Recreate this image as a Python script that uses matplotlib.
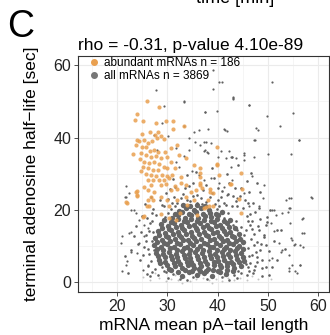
import numpy as np
import matplotlib
matplotlib.use("Agg")
import matplotlib.pyplot as plt
from matplotlib.lines import Line2D

plt.rcParams['font.family'] = ['Liberation Sans', 'DejaVu Sans']

# abundant mRNAs (orange)
abundant = [
    (25.9, 50.0), (28.3, 48.4), (24.0, 46.4), (25.2, 44.7), (23.6, 44.9), (27.8, 44.0),
    (29.7, 44.7), (31.2, 44.7), (33.3, 43.2), (31.2, 42.3), (26.5, 41.6), (24.9, 41.0),
    (28.1, 41.5), (27.5, 40.7), (28.7, 40.4), (24.0, 39.3), (24.4, 39.0), (25.4, 39.3),
    (26.2, 38.4), (27.9, 39.8), (26.9, 39.0), (29.4, 39.5), (23.8, 37.9), (24.9, 37.5),
    (25.8, 37.3), (26.6, 36.4), (27.4, 36.6), (28.2, 36.1), (29.5, 36.1), (23.2, 35.5),
    (24.8, 35.8), (25.7, 35.2), (26.7, 34.7), (27.7, 34.9), (28.7, 34.3), (30.0, 34.7),
    (30.7, 33.2), (24.6, 34.0), (25.4, 33.3), (26.4, 32.9), (27.4, 33.1), (28.4, 32.7),
    (29.4, 31.9), (25.1, 31.9), (26.1, 31.5), (27.1, 31.0), (28.1, 31.0), (30.0, 31.5),
    (24.8, 30.6), (25.7, 29.9), (26.7, 29.6), (27.7, 29.4), (29.0, 29.6), (29.9, 29.4),
    (26.1, 28.3), (27.1, 28.1), (28.4, 28.3), (29.4, 28.3), (30.4, 28.7), (28.7, 26.9),
    (29.7, 27.2), (26.7, 26.9), (25.3, 26.4), (24.1, 25.3), (24.0, 23.8), (22.0, 22.0),
    (26.1, 25.5), (26.7, 23.6), (27.4, 25.0), (26.1, 22.7), (25.4, 18.3), (26.4, 20.9),
    (28.7, 23.6), (30.0, 22.7), (30.4, 20.9), (30.4, 17.6), (30.7, 25.5), (31.5, 26.6),
    (32.0, 25.7), (32.8, 27.5), (33.7, 26.9), (32.0, 22.7), (33.7, 23.6), (34.7, 24.8),
    (34.0, 21.3), (35.4, 22.7), (35.8, 25.5), (36.9, 26.0), (36.5, 27.5), (36.6, 29.2),
    (38.0, 22.7), (38.5, 25.0), (39.0, 21.1), (36.0, 18.5), (37.6, 20.7), (31.7, 17.2),
    (32.5, 19.0), (28.7, 18.8), (39.9, 37.5), (39.9, 32.4), (40.3, 29.6), (42.6, 27.2),
    (44.7, 30.1), (44.8, 25.7), (44.2, 22.9), (44.7, 19.0), (33.7, 34.3), (35.3, 32.4),
    (30.7, 37.0), (32.0, 38.0), (32.3, 35.2), (31.5, 31.5), (31.0, 29.6), (32.8, 29.2),
    (21.8, 22.2), (23.9, 25.0), (24.1, 24.1), (25.1, 18.1), (25.9, 20.9), (27.1, 22.7),
    (36.6, 31.5), (36.6, 30.1), (39.8, 32.6), (38.5, 25.7), (39.0, 24.7), (38.3, 20.9),
    (37.3, 20.4), (42.4, 27.1), (36.6, 26.9),
]

# all mRNAs: dense core of the cloud
all_core = [
    (33.0, 1.6), (34.4, 2.8), (35.9, 1.9), (37.3, 2.5), (38.8, 1.7), (40.1, 2.9),
    (41.7, 2.2), (36.6, 3.1),
    (30.3, 3.7), (31.6, 4.5), (32.9, 3.9), (34.1, 4.6), (35.4, 3.8), (36.8, 4.4),
    (38.0, 3.6), (39.3, 4.7), (40.6, 4.0), (41.9, 4.5), (43.3, 3.8), (44.7, 4.3),
    (28.3, 6.0), (29.6, 5.5), (30.9, 6.4), (32.2, 5.8), (33.5, 6.6), (34.8, 5.6), (36.1, 6.3),
    (37.4, 5.7), (38.7, 6.5), (40.0, 5.9), (41.3, 6.2), (42.6, 5.6), (43.9, 6.4), (45.2, 5.9),
    (27.8, 8.1), (29.1, 7.6), (30.4, 8.4), (31.7, 7.8), (33.0, 8.5), (34.3, 7.7), (35.6, 8.3),
    (36.9, 7.9), (38.2, 8.6), (39.5, 7.8), (40.8, 8.2), (42.1, 7.7), (43.4, 8.5), (44.7, 8.0),
    (27.4, 10.2), (28.7, 9.6), (30.0, 10.4), (31.3, 9.8), (32.6, 10.5), (33.9, 9.7), (35.2, 10.3),
    (36.5, 9.9), (37.8, 10.6), (39.1, 9.8), (40.4, 10.2), (41.7, 9.7), (43.0, 10.5), (44.3, 10.0),
    (27.6, 12.1), (28.9, 11.6), (30.2, 12.4), (31.5, 11.8), (32.8, 12.5), (34.1, 11.7), (35.4, 12.3),
    (36.7, 11.9), (38.0, 12.6), (39.3, 11.8), (40.6, 12.2), (41.9, 11.7), (43.2, 12.4), (44.5, 12.0),
    (28.2, 14.0), (29.5, 13.6), (30.8, 14.4), (32.1, 13.8), (33.4, 14.5), (34.7, 13.7), (36.0, 14.3),
    (37.3, 13.9), (38.6, 14.6), (39.9, 13.8), (41.2, 14.2), (42.5, 13.7),
    (28.8, 16.1), (30.1, 15.6), (31.4, 16.4), (32.7, 15.8), (34.0, 16.5), (35.3, 15.7), (36.6, 16.3),
    (37.9, 15.9), (39.2, 16.6), (40.5, 15.8), (41.8, 16.2),
    (30.9, 17.6), (32.2, 18.4), (33.5, 17.8), (34.8, 18.5), (36.1, 17.7), (37.4, 18.3),
    (38.7, 17.9), (40.0, 18.6),
    (32.3, 19.7), (33.8, 20.4), (35.3, 19.8), (36.8, 20.5), (38.3, 19.9),
]

# all mRNAs: more of the dense core, between the rows above
all_core_b = [
    (30.8, 3.3), (32.1, 2.8), (33.6, 3.4), (34.9, 2.9), (36.3, 3.6), (37.7, 3.0),
    (39.0, 3.3), (40.5, 2.7), (41.9, 3.4), (43.1, 3.1),
    (28.6, 5.2), (29.9, 4.8), (31.3, 5.3), (32.5, 4.9), (33.9, 5.4), (35.1, 4.7), (36.6, 5.1),
    (37.8, 4.9), (39.2, 5.5), (40.4, 4.8), (41.8, 5.3), (43.0, 4.9), (44.3, 5.4),
    (28.1, 7.1), (29.5, 6.8), (30.7, 7.3), (32.0, 6.9), (33.4, 7.4), (34.6, 6.7), (35.9, 7.2),
    (37.2, 6.9), (38.5, 7.5), (39.9, 6.8), (41.1, 7.1), (42.4, 6.8), (43.7, 7.4), (45.1, 7.0),
    (27.9, 9.1), (29.2, 8.7), (30.6, 9.3), (31.9, 8.8), (33.3, 9.4), (34.5, 8.7), (35.9, 9.2),
    (37.1, 8.9), (38.5, 9.6), (39.8, 8.8), (41.2, 9.1), (42.5, 8.7), (43.8, 9.4), (45.0, 9.0),
    (27.9, 11.0), (29.3, 10.7), (30.6, 11.3), (31.9, 10.8), (33.2, 11.5), (34.6, 10.7), (35.8, 11.2),
    (37.2, 10.9), (38.5, 11.6), (39.7, 10.8), (41.1, 11.2), (42.3, 10.7), (43.7, 11.4), (45.0, 11.0),
    (28.4, 13.1), (29.7, 12.7), (31.1, 13.3), (32.4, 12.9), (33.8, 13.4), (35.0, 12.8), (36.4, 13.2),
    (37.6, 12.9), (39.0, 13.5), (40.2, 12.8), (41.6, 13.2), (42.9, 12.8), (44.2, 13.3),
    (29.0, 15.0), (30.4, 14.7), (31.7, 15.3), (33.0, 14.9), (34.4, 15.4), (35.7, 14.8), (37.0, 15.2),
    (38.3, 14.9), (39.6, 15.5), (40.9, 14.8), (42.2, 15.2), (43.5, 14.8),
    (29.4, 17.1), (30.8, 16.7), (32.1, 17.3), (33.4, 16.9), (34.7, 17.4), (36.0, 16.8), (37.3, 17.2),
    (38.6, 16.9), (39.9, 17.5), (41.2, 16.8), (42.5, 17.2),
    (31.6, 18.8), (33.0, 19.3), (34.3, 18.9), (35.7, 19.4), (37.0, 18.8), (38.4, 19.2),
    (39.6, 18.9), (40.9, 19.4),
    (33.1, 21.4), (34.5, 20.9), (36.0, 21.3), (37.5, 21.0),
]

# all mRNAs: ring of medium density around the core
all_ring = [
    (24.5, 6.2), (25.3, 9.8), (26.1, 4.5), (25.8, 13.1), (26.6, 16.4), (24.9, 18.2), (26.9, 11.4),
    (27.2, 20.3), (25.5, 21.7), (23.4, 12.6), (22.8, 8.9), (26.3, 7.7), (27.0, 2.8), (25.9, 2.1),
    (23.9, 15.5), (21.6, 7.2), (22.2, 2.5), (24.2, 10.6), (27.7, 18.6), (26.8, 23.4),
    (28.5, 22.8), (29.8, 24.6), (30.9, 21.9), (31.6, 26.3), (32.8, 23.2), (33.5, 25.9), (34.6, 22.4),
    (35.2, 27.4), (36.0, 24.1), (36.9, 21.6), (37.7, 26.8), (38.4, 23.5), (39.3, 28.9), (40.1, 22.7),
    (40.8, 25.2), (41.6, 21.3), (42.3, 27.5), (43.1, 23.8), (43.9, 20.9), (44.6, 26.1), (45.4, 22.6),
    (46.2, 24.9), (47.1, 21.8), (47.9, 27.3), (33.9, 29.6), (31.2, 28.4), (29.4, 21.0), (35.8, 30.5),
    (38.9, 31.7), (41.9, 29.8), (44.0, 32.4), (46.6, 30.1), (48.5, 25.0),
    (46.8, 14.7), (47.3, 10.2), (47.9, 6.8), (48.4, 17.3), (46.4, 18.9), (49.2, 12.5), (48.8, 3.9),
    (50.1, 8.6), (47.0, 2.6), (49.6, 15.9), (51.2, 11.4), (50.4, 19.8), (46.0, 16.8), (47.6, 8.4),
    (45.8, 2.0), (51.8, 6.1), (52.6, 14.3), (50.8, 4.2), (48.2, 20.6), (53.4, 9.0),
    (46.5, 15.8), (48.2, 14.4), (49.2, 13.0), (49.8, 16.7), (51.8, 14.4), (49.5, 10.2), (48.5, 8.9),
    (46.9, 7.5), (47.9, 5.6), (49.5, 4.2), (47.2, 3.3), (48.8, 1.5), (50.2, 1.9),
    (28.9, 21.4), (30.1, 22.9), (31.4, 23.6), (32.0, 21.8), (33.2, 24.4), (34.0, 22.7), (35.1, 23.9),
    (35.9, 21.9), (36.7, 23.2), (37.6, 22.1), (38.8, 24.6), (39.5, 21.5), (40.7, 23.6), (41.2, 22.0),
    (42.1, 24.4), (42.8, 21.1), (43.6, 22.5), (44.5, 23.9), (45.1, 20.6), (46.0, 21.9), (30.5, 25.8),
    (34.4, 26.7), (37.1, 25.4), (40.0, 26.0), (43.4, 25.9), (45.9, 27.9),
    (25.7, 11.3), (26.4, 14.2), (27.0, 16.9), (26.2, 9.1), (25.1, 7.4), (26.8, 5.9), (27.6, 3.7),
    (26.9, 19.1), (24.7, 13.9), (25.9, 17.7), (27.2, 13.7), (26.6, 1.6), (28.2, 1.8), (27.4, 8.9),
    (46.7, 11.9), (47.2, 13.4), (46.5, 5.2), (47.8, 11.1), (45.9, 18.2), (46.9, 16.9), (48.6, 10.6),
    (47.5, 4.3), (45.6, 14.3), (47.4, 19.4), (48.9, 6.2), (46.3, 3.1), (49.7, 17.9), (48.0, 15.6),
    (30.1, 1.1), (32.6, 0.9), (35.2, 1.3), (37.9, 0.9), (40.9, 1.4), (43.9, 1.1), (42.3, 0.6),
    (34.0, 0.5),
    (31.6, 21.1), (40.3, 20.9), (30.8, 20.1), (42.0, 19.0), (29.6, 18.0), (43.6, 16.9), (44.6, 15.3),
    (46.3, 7.3), (46.1, 9.3), (46.0, 4.1), (44.6, 2.6), (29.8, 2.7), (28.9, 4.2), (44.1, 2.9),
    (29.4, 3.1), (43.2, 1.8), (31.2, 2.1), (39.8, 20.2), (41.3, 17.8), (43.1, 15.7), (43.8, 14.4),
    (45.3, 13.0), (30.2, 19.0), (45.6, 5.0),
]

# all mRNAs: sparse outliers
all_sparse = [
    (50.8, 55.5), (43.1, 50.9), (46.2, 49.0), (55.0, 46.9), (49.7, 46.0), (52.3, 43.2), (47.7, 42.6),
    (48.0, 42.1), (56.1, 39.3), (47.5, 39.2), (45.2, 35.6), (45.2, 33.8), (50.0, 35.4), (54.5, 35.4),
    (47.2, 34.7), (42.9, 34.7), (42.6, 31.9), (46.9, 29.4), (49.2, 26.9), (54.1, 23.2), (58.6, 23.4),
    (49.0, 23.2), (48.2, 20.9), (46.2, 20.9), (51.2, 19.9), (52.8, 19.0), (54.3, 20.4), (56.8, 17.4),
    (50.5, 16.3), (51.2, 14.0), (54.3, 16.4), (54.8, 11.6), (55.1, 10.2), (56.8, 13.5), (57.0, 9.8),
    (52.8, 8.9), (56.3, 4.7), (55.4, 2.9), (54.1, 3.8), (50.2, 6.1),
    (39.1, 58.7), (40.3, 55.5), (40.9, 55.5), (39.1, 53.4), (43.0, 51.2), (43.0, 50.6), (46.3, 49.1),
    (37.4, 47.0), (39.9, 47.4), (38.1, 42.3), (41.4, 42.1), (41.8, 41.9), (56.2, 39.2), (47.3, 39.2),
    (37.3, 38.9), (38.6, 38.6), (37.3, 36.4), (38.0, 35.8), (40.7, 36.2), (42.2, 36.4), (45.3, 35.2),
    (40.1, 34.5), (41.6, 34.4), (42.9, 34.5),
    (27.7, 53.2), (33.3, 49.9), (37.5, 47.2), (33.3, 43.2), (29.0, 44.0), (27.4, 40.7), (34.3, 39.8),
    (35.6, 38.9), (36.6, 37.9), (28.0, 36.6), (31.7, 37.0), (30.2, 40.3), (37.5, 36.6),
    (29.4, 48.8), (33.3, 50.0), (41.3, 42.3), (35.3, 41.6), (36.3, 42.1), (37.6, 38.9), (37.9, 36.1),
    (34.3, 36.6), (33.3, 34.9), (31.7, 33.3), (32.3, 31.9), (42.6, 34.7), (43.6, 34.3), (35.0, 30.6),
    (36.3, 29.6), (37.3, 28.3), (38.6, 28.7), (40.3, 27.3), (41.3, 26.4), (42.9, 28.3), (41.9, 24.1),
    (43.9, 23.2), (45.2, 24.6), (21.6, 23.6), (22.4, 24.6), (21.1, 12.7), (22.8, 13.9), (20.8, 10.7),
    (23.8, 19.0), (22.8, 20.0), (24.4, 17.2), (25.3, 15.8), (26.1, 14.9),
    (21.9, 26.7), (21.8, 23.6), (23.4, 19.9), (22.4, 13.5), (22.8, 8.4), (24.1, 7.9), (22.1, 5.8),
    (21.8, 4.7), (21.0, 3.05), (25.1, 3.3), (26.1, 4.7), (24.4, 10.7), (25.4, 12.6),
    (54.5, 23.2), (53.5, 22.7), (58.7, 23.2), (57.0, 17.6), (54.1, 20.4), (53.9, 19.5), (50.8, 19.9),
    (51.5, 18.6), (57.1, 13.5), (54.6, 12.1), (55.4, 10.4), (56.4, 10.2), (52.1, 10.7), (50.8, 6.5),
    (52.5, 8.4), (54.1, 7.5), (54.8, 4.7), (56.4, 4.7), (55.8, 2.4), (54.1, 2.9),
]

# faint points near zero half-life
all_faint = [
    (26.5, 0.4), (28.3, 1.1), (29.7, 0.2), (30.8, 0.9), (32.1, 0.5), (33.4, 1.3), (34.6, 0.3),
    (35.8, 0.8), (37.1, 1.2), (38.3, 0.4), (39.6, 0.9), (40.8, 0.2), (42.0, 1.0), (43.3, 0.5),
    (44.5, 1.2), (45.9, 0.6), (27.5, 2.4), (31.5, 1.8), (36.5, 2.2), (41.2, 1.7), (46.8, 1.5),
    (48.1, 0.8), (25.2, 1.3), (50.5, 0.7), (33.0, -0.3), (38.9, -0.2),
]

title = "rho = -0.31, p-value 4.10e-89"
labels = ["abundant mRNAs n = 186", "all mRNAs n = 3869"]
orange = "#E9A050"
grey = "#606060"

fig = plt.figure(figsize=(3.3, 3.35), dpi=100)
ax = fig.add_axes([0.2364, 0.1284, 0.7606, 0.7044])

core = np.array(all_core + all_core_b).T
ring = np.array(all_ring).T
sparse = np.array(all_sparse).T
faint = np.array(all_faint).T
ab = np.array(abundant).T

ax.scatter(faint[0], faint[1], s=2, color="#c4c4c4", linewidths=0, zorder=2)
ax.scatter(core[0], core[1], s=15, color="#666666", linewidths=0, zorder=2)
ax.scatter(ring[0], ring[1], s=3.5, color=grey, linewidths=0, zorder=2)
ax.scatter(sparse[0], sparse[1], s=2.5, color=grey, linewidths=0, zorder=2)
ax.scatter(ab[0], ab[1], s=9, color=orange, alpha=0.85, linewidths=0, zorder=3)

ax.set_xlim(12.3, 62.1)
ax.set_ylim(-2.8, 62.6)
ax.set_xticks([20, 30, 40, 50, 60])
ax.set_yticks([0, 20, 40, 60])
ax.set_xticks([15, 25, 35, 45, 55], minor=True)
ax.set_yticks([10, 30, 50], minor=True)
ax.grid(True, which="major", color="#ebebeb", linewidth=0.8, zorder=0)
ax.grid(True, which="minor", color="#f2f2f2", linewidth=0.5, zorder=0)
ax.set_axisbelow(True)
ax.tick_params(which="major", length=3, width=0.6, color="#333333",
               labelsize=11.5, labelcolor="#222222", pad=2)
ax.tick_params(which="minor", length=0)
for sp in ax.spines.values():
    sp.set_color("#333333")
    sp.set_linewidth(0.8)

ax.set_xlabel("mRNA mean pA\u2212tail length", fontsize=12.5, labelpad=3)
ax.set_ylabel("terminal adenosine half\u2212life [sec]", fontsize=12.5, labelpad=10)
ax.set_title(title, fontsize=12.5, pad=4, loc="left")

handles = [Line2D([], [], marker="o", ls="", color=orange, markersize=4),
           Line2D([], [], marker="o", ls="", color="#777777", markersize=4)]
ax.legend(handles, labels, loc="upper left", bbox_to_anchor=(0.05, 0.995), frameon=False,
          fontsize=8.5, handlelength=0.6, handletextpad=0.5, borderpad=0, labelspacing=0.1,
          borderaxespad=0)

fig.text(0.064, 0.92, "C", fontsize=27, ha="center", va="center")
# the neighbouring panel's axis label, cut off at the top edge as in the figure
fig.text(0.712, 1 - 3 / 335, "time [min]", fontsize=13, ha="center", va="baseline")

fig.savefig("out.png", dpi=100)
